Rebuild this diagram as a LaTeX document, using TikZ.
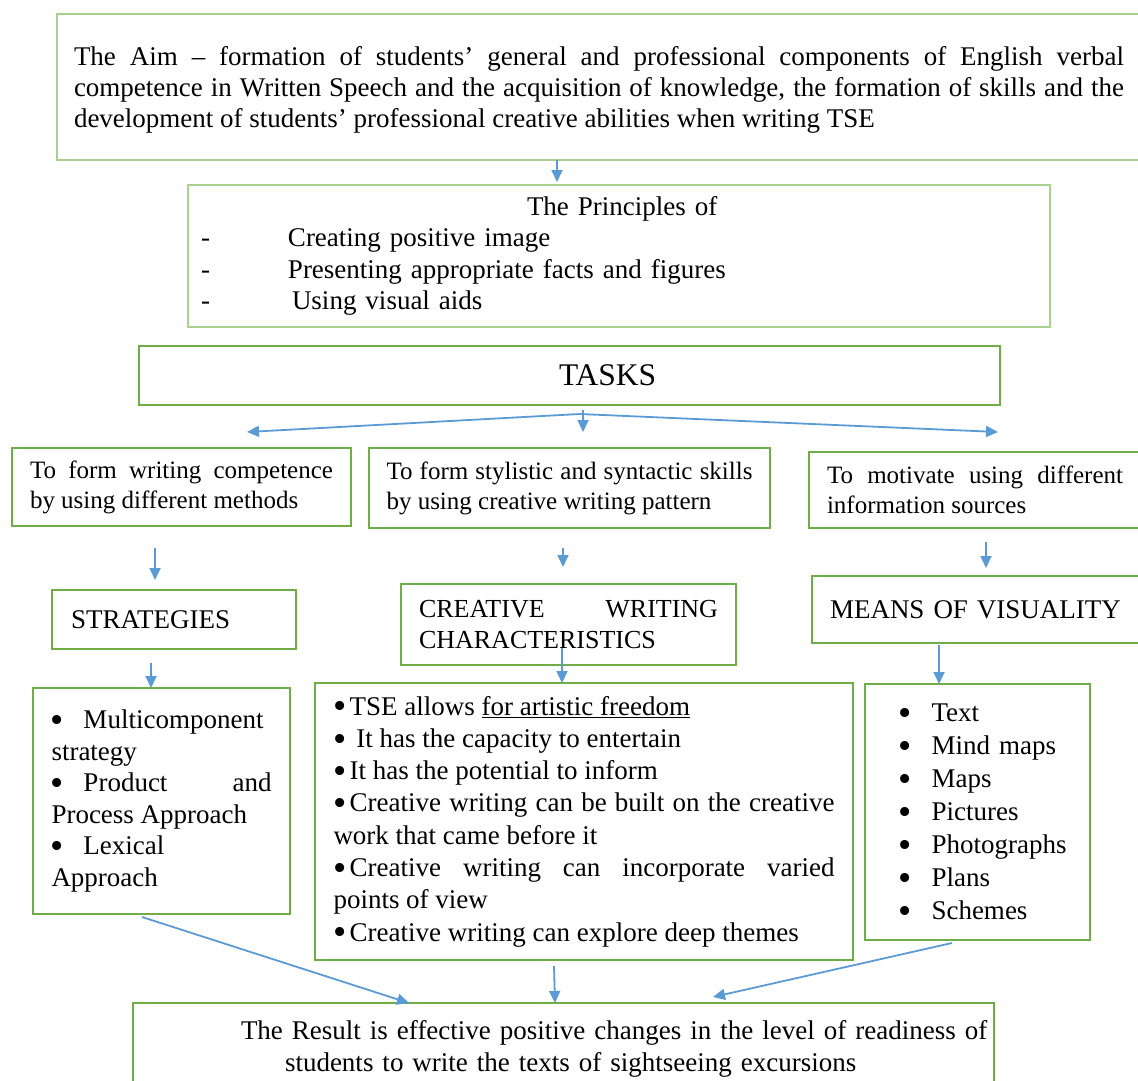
\documentclass[tikz,border=0pt]{standalone}
\usepackage{fontspec}
\setmainfont{Liberation Serif}
\usetikzlibrary{arrows.meta}
\definecolor{boxgreen}{HTML}{70AD47}
\definecolor{palegreen}{HTML}{A9D18E}
\definecolor{arrowblue}{HTML}{5B9BD5}
\newcommand{\bul}{\raisebox{-3.8pt}[0pt][0pt]{\scalebox{1.4}{\textbullet}}}
\newcommand{\blt}{\makebox[32pt][l]{\hspace*{-1pt}\bul}}
\setlength{\parindent}{0pt}
\hyphenpenalty=10000
\exhyphenpenalty=10000

\begin{document}
\begin{tikzpicture}[x=1pt, y=-1pt,
    box/.style={draw=boxgreen, line width=2.4pt, anchor=north west, inner sep=0pt, outer sep=0pt,
        align=justify, font=\fontsize{27}{32}\selectfont},
    pale/.style={box, draw=palegreen},
    arr/.style={draw=arrowblue, line width=1.8pt, -{Triangle[length=12pt, width=11pt]}}]
    \useasboundingbox (0,0) rectangle (1138,1081);

    % Aim and principles
    \node[pale, line width=2.6pt, minimum width=1084, minimum height=146, text width=1050,
        font=\fontsize{27}{31}\selectfont] (aim) at (57,14)
        {\rule{0pt}{25pt}The Aim -- formation of students' general and professional components of English verbal\linebreak
         competence in Written Speech and the acquisition of knowledge, the formation of skills and the\linebreak
         development of students' professional creative abilities when writing TSE};
    \node[pale, line width=2pt, minimum width=862, minimum height=142, text width=836, align=left,
        font=\fontsize{27}{31.5}\selectfont] (prin) at (188,185)
        {\hspace*{326pt}The Principles of\\
         \makebox[87pt][l]{-}Creating positive image\\
         \makebox[87pt][l]{-}Presenting appropriate facts and figures\\
         \makebox[91pt][l]{-}Using visual aids};

    % Tasks
    \node[box, minimum width=861, minimum height=59, text width=861, align=left,
        font=\fontsize{31.5}{36}\selectfont] (tasks) at (139,346) {\hspace*{420pt}TASKS};
    \node[box, minimum width=339, minimum height=78, text width=303,
        font=\fontsize{25}{30}\selectfont] (t1) at (12,448)
        {To form writing competence\linebreak by using different methods};
    \node[box, minimum width=401, minimum height=80, text width=366,
        font=\fontsize{25}{30}\selectfont] (t2) at (369,448)
        {To form stylistic and syntactic skills\linebreak by using creative writing pattern};
    \node[box, minimum width=332, minimum height=76, text width=296,
        font=\fontsize{25}{30}\selectfont] (t3) at (809,452)
        {To motivate using different\linebreak information sources};

    % Strategies, characteristics, visuality
    \node[box, minimum width=244, minimum height=59, text width=206, align=left] (strat) at (52,590) {STRATEGIES};
    \node[box, minimum width=335, minimum height=81, text width=299,
        font=\fontsize{26}{31}\selectfont] (cwc) at (401,584)
        {CREATIVE WRITING\linebreak CHARACTERISTICS};
    \node[box, minimum width=340, minimum height=67, text width=304, align=left] (mov) at (812,576) {MEANS OF VISUALITY};

    % Lists
    \node[box, minimum width=257, minimum height=226, text width=220,
        font=\fontsize{27}{31.6}\selectfont] (slist) at (33,688)
        {\blt Multicomponent\\ strategy\\ \blt Product and\linebreak Process Approach\\ \blt Lexical\\ Approach};
    \node[box, minimum width=538, minimum height=277, text width=501,
        font=\fontsize{27}{32.3}\selectfont] (clist) at (315,683)
        {\bul\hspace{3pt}TSE allows \underline{for artistic freedom}\\
         \bul\hspace{3pt} It has the capacity to entertain\\
         \bul\hspace{3pt}It has the potential to inform\\
         \bul\hspace{3pt}Creative writing can be built on the creative\linebreak work that came before it\\
         \bul\hspace{3pt}Creative writing can incorporate varied\linebreak points of view\\
         \bul\hspace{3pt}Creative writing can explore deep themes};
    \node[box, minimum width=225, minimum height=256, text width=200, align=left,
        font=\fontsize{27}{33}\selectfont] (mlist) at (865,684)
        {\hspace*{22pt}\blt Text\\ \hspace*{22pt}\blt Mind maps\\ \hspace*{22pt}\blt Maps\\
         \hspace*{22pt}\blt Pictures\\ \hspace*{22pt}\blt Photographs\\ \hspace*{22pt}\blt Plans\\
         \hspace*{22pt}\blt Schemes};

    % Result
    \node[box, minimum width=861, minimum height=92, text width=861, align=left] (res) at (133,1003)
        {\hspace*{108pt}The Result is effective positive changes in the level of readiness of\\
         \hspace*{152pt}students to write the texts of sightseeing excursions};

    % Arrows
    \coordinate (fork) at ([xshift=10pt,yshift=-9pt]tasks.south);
    \draw[arr] ([xshift=-42pt]aim.south) -- ([xshift=-62pt,yshift=3pt]prin.north);
    \draw[arr] ([xshift=13.5pt,yshift=-5pt]tasks.south) -- ([xshift=13.5pt,yshift=16pt]t2.north);
    \draw[arr] (fork) -- ([xshift=65.5pt,yshift=16pt]t1.north);
    \draw[arr] (fork) -- ([xshift=23pt,yshift=20pt]t3.north);
    \draw[arr] ([xshift=-26.5pt,yshift=-22pt]t1.south) -- ([xshift=-19pt,yshift=10pt]strat.north);
    \draw[arr] ([xshift=-6.5pt,yshift=-20pt]t2.south) -- ([xshift=-5.5pt,yshift=17pt]cwc.north);
    \draw[arr] ([xshift=11pt,yshift=-14pt]t3.south) -- ([xshift=4pt,yshift=8pt]mov.north);
    \draw[arr] ([xshift=-23pt,yshift=-14pt]strat.south) -- ([xshift=-10.5pt]slist.north);
    \draw[arr] ([xshift=-6.5pt,yshift=17pt]cwc.south) -- ([xshift=-22pt]clist.north);
    \draw[arr] ([xshift=-43pt,yshift=-2pt]mov.south) -- ([xshift=-38.5pt]mlist.north);
    \draw[arr] ([xshift=-19.5pt,yshift=-3pt]slist.south) -- ([xshift=-154.5pt]res.north);
    \draw[arr] ([xshift=-30pt,yshift=-6pt]clist.south) -- ([xshift=-8.5pt]res.north);
    \draw[arr] ([xshift=-25.5pt,yshift=-3pt]mlist.south) -- ([xshift=149.5pt,yshift=6pt]res.north);
\end{tikzpicture}
\end{document}
